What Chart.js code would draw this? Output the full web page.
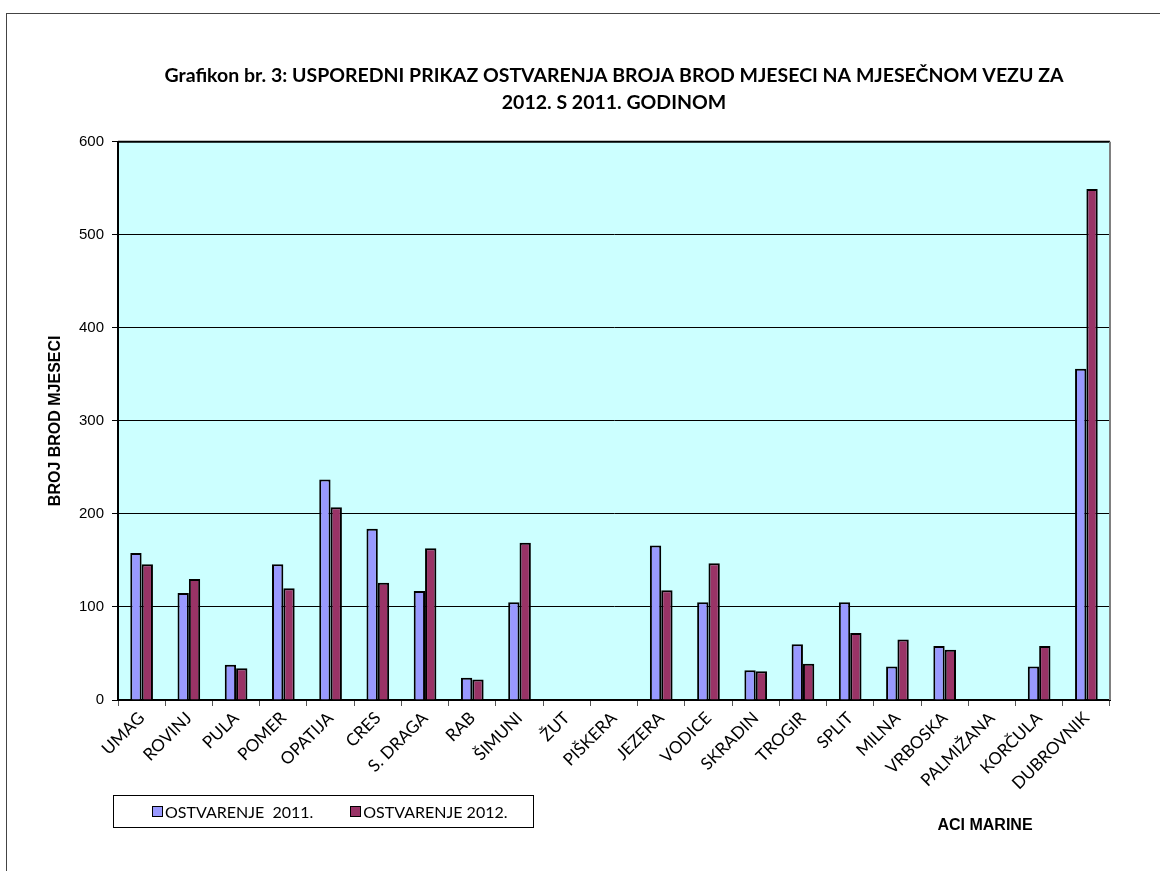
<!DOCTYPE html>
<html>
<head>
<meta charset="utf-8">
<script src="https://cdn.jsdelivr.net/npm/chart.js@4"></script>
<style>
  html, body { margin: 0; padding: 0; background: #fff; }
  #wrap { position: relative; width: 1160px; height: 871px; overflow: hidden; }
  #frame { position: absolute; left: 6px; top: 13px; width: 1200px; height: 900px; border: 1px solid #444; }
  #chart { position: absolute; left: 0; top: 0; }
  #legend {
    position: absolute; left: 113px; top: 795px; width: 381px; height: 31px; padding-left: 38px;
    border: 1.5px solid #000; display: flex; align-items: center; gap: 37px;
    font-family: Lato, sans-serif; font-size: 16px; color: #000;
  }
  .lg-item { display: flex; align-items: center; white-space: pre; }
  .lg-box { width: 9px; height: 9px; border: 1.5px solid #000; margin-right: 2px; }
  #xtitle {
    position: absolute; left: 935px; top: 816px; width: 100px; text-align: center;
    font-family: 'Liberation Sans', Arial, sans-serif; font-weight: bold; font-size: 16px; color: #000;
  }
</style>
</head>
<body>
<div id="wrap">
  <div id="frame"></div>
  <canvas id="chart" width="1160" height="871"></canvas>
  <div id="legend"></div>
  <div id="xtitle">ACI MARINE</div>
</div>
<script>
const marine = ['UMAG', 'ROVINJ', 'PULA', 'POMER', 'OPATIJA', 'CRES', 'S. DRAGA', 'RAB', 'ŠIMUNI', 'ŽUT', 'PIŠKERA',
  'JEZERA', 'VODICE', 'SKRADIN', 'TROGIR', 'SPLIT', 'MILNA', 'VRBOSKA', 'PALMIŽANA', 'KORČULA', 'DUBROVNIK'];
const ostvarenje2011 = [158, 115, 38, 146, 237, 184, 117, 24, 105, 0, 0, 166, 105, 32, 60, 105, 36, 58, 0, 36, 356];
const ostvarenje2012 = [146, 130, 34, 120, 207, 126, 163, 22, 169, 0, 0, 118, 147, 31, 39, 72, 65, 54, 0, 58, 549];
const seriesLabels = ['OSTVARENJE  2011.', 'OSTVARENJE 2012.'];
const titleLines = ['Grafikon br. 3: USPOREDNI PRIKAZ OSTVARENJA BROJA BROD MJESECI NA MJESEČNOM VEZU ZA', '2012. S 2011. GODINOM'];
const yTitle = 'BROJ BROD MJESECI';

// cyan plot area with the Excel style frame
const plotBg = {
  id: 'plotBg',
  beforeDraw(chart) {
    const { ctx, chartArea: a } = chart;
    ctx.save();
    ctx.fillStyle = '#CCFFFF';
    ctx.fillRect(a.left, a.top, a.right - a.left, a.bottom - a.top);
    ctx.restore();
  },
  afterDatasetsDraw(chart) {
    const { ctx, chartArea: a } = chart;
    ctx.save();
    ctx.lineWidth = 2;
    ctx.strokeStyle = '#000';
    ctx.beginPath(); ctx.moveTo(a.left, a.top); ctx.lineTo(a.right, a.top); ctx.stroke();
    ctx.strokeStyle = '#808080';
    ctx.beginPath(); ctx.moveTo(a.right, a.top); ctx.lineTo(a.right, a.bottom); ctx.stroke();
    ctx.restore();
  }
};

const chart = new Chart(document.getElementById('chart'), {
  type: 'bar',
  data: {
    labels: marine,
    datasets: [
      { label: seriesLabels[0], data: ostvarenje2011, backgroundColor: '#9999FF', borderColor: '#000', borderWidth: 2 },
      { label: seriesLabels[1], data: ostvarenje2012, backgroundColor: '#993366', borderColor: '#000', borderWidth: 2 }
    ]
  },
  options: {
    responsive: false,
    animation: false,
    datasets: { bar: { barPercentage: 1, categoryPercentage: 0.48 } },
    layout: { padding: { left: 44, right: 50, top: 0, bottom: 51 } },
    plugins: {
      legend: { display: false },
      tooltip: { enabled: false },
      title: {
        display: true, text: titleLines, fullSize: false, color: '#000',
        font: { family: 'Lato', size: 19.5, weight: 'bold', lineHeight: 1.35 },
        padding: { top: 63, bottom: 26 }
      }
    },
    scales: {
      x: {
        afterFit: s => { s.height = 120; },
        border: { display: true, color: '#000', width: 2 },
        grid: { drawOnChartArea: false, drawTicks: true, tickLength: 6, color: '#555', offset: true },
        ticks: {
          color: '#000', autoSkip: false, maxRotation: 45, minRotation: 45, padding: 2,
          font: { family: 'Lato', size: 17 }
        }
      },
      y: {
        min: 0, max: 600,
        afterFit: s => { s.width = 74; },
        border: { display: true, color: '#000', width: 2 },
        grid: { color: '#000', lineWidth: 1, tickLength: 6, tickColor: '#000' },
        ticks: { stepSize: 100, color: '#000', padding: 8, font: { family: 'Liberation Sans', size: 15 } },
        title: {
          display: true, text: yTitle, color: '#000', padding: { top: 2, bottom: 0 },
          font: { family: 'Liberation Sans', size: 16, weight: 'bold' }
        }
      }
    }
  },
  plugins: [plotBg]
});

document.getElementById('legend').innerHTML = chart.data.datasets.map(d => `
  <div class="lg-item"><div class="lg-box" style="background:${d.backgroundColor};"></div>${d.label}</div>
`).join('');
</script>
</body>
</html>
